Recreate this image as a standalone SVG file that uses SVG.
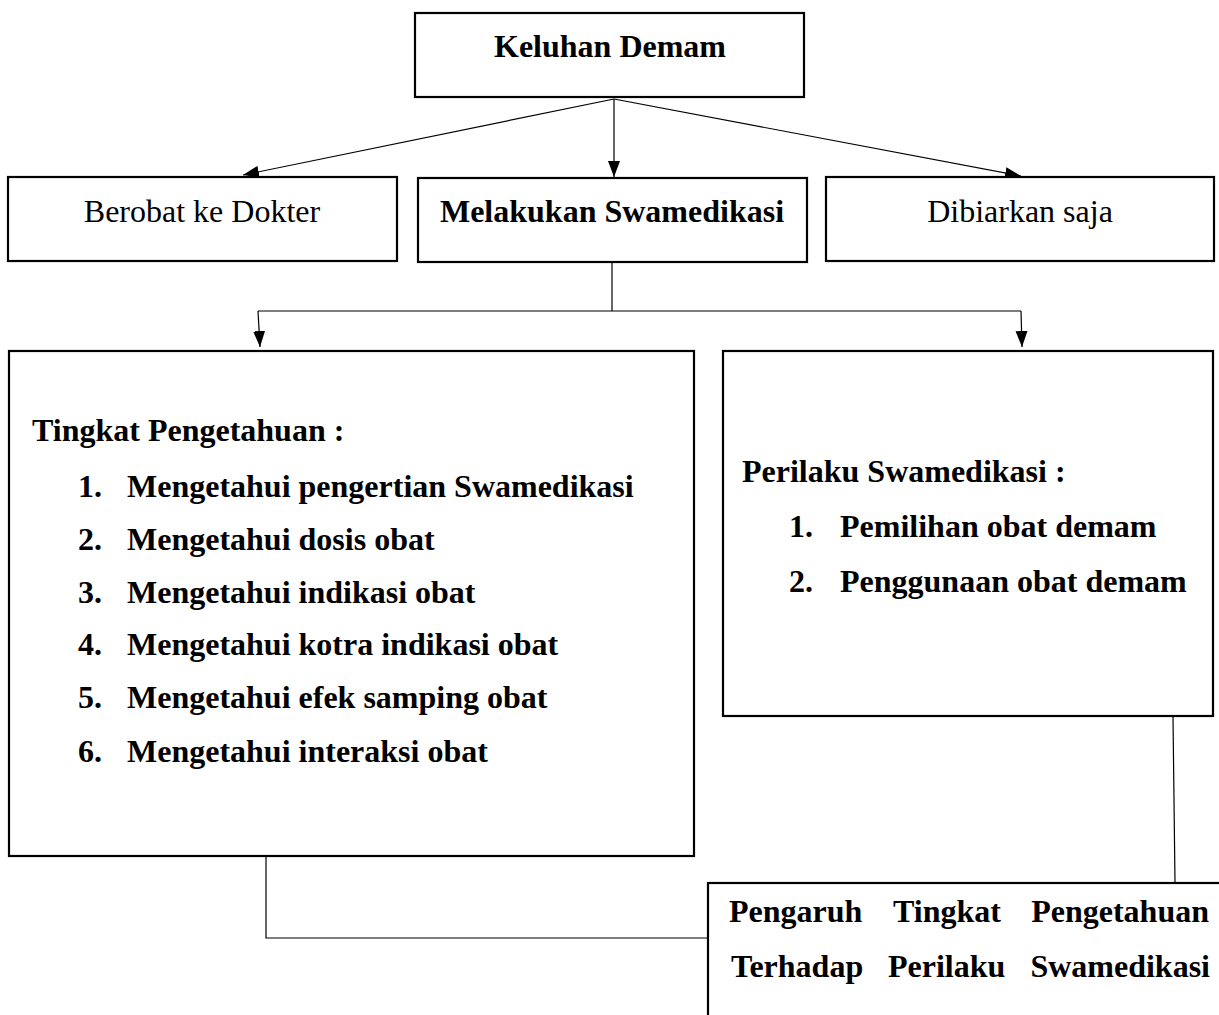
<svg xmlns="http://www.w3.org/2000/svg" width="1219" height="1015" viewBox="0 0 1219 1015">
<style>
.box{fill:#fff;stroke:#000;stroke-width:2.2}
.c{fill:none;stroke:#000;stroke-width:1.2}
text{font-family:"Liberation Serif","Times New Roman",serif;font-size:32px;fill:#000}
.b{font-weight:bold}
.m{text-anchor:middle}
.e{text-anchor:end}
</style>
<defs>
<marker id="ah" markerUnits="userSpaceOnUse" markerWidth="16" markerHeight="14" viewBox="0 0 16 14" refX="16" refY="7" orient="auto">
<path d="M0,1 L16,7 L0,13 Z" fill="#000"/>
</marker>
</defs>
<g id="connectors">
<line class="c" x1="614" y1="99" x2="614" y2="177" marker-end="url(#ah)"/>
<line class="c" x1="614" y1="99" x2="243" y2="175" marker-end="url(#ah)"/>
<line class="c" x1="614" y1="99" x2="1021" y2="176" marker-end="url(#ah)"/>
<polyline class="c" points="612,263 612,311"/>
<polyline class="c" points="258,311 1021,311"/>
<line class="c" x1="258" y1="311" x2="260" y2="347" marker-end="url(#ah)"/>
<line class="c" x1="1021" y1="311" x2="1022" y2="347" marker-end="url(#ah)"/>
<polyline class="c" points="266,857 266,938 707,938"/>
<line class="c" x1="1173" y1="717" x2="1175" y2="883"/>
</g>
<g id="keluhan">
<rect class="box" x="415" y="13" width="389" height="84"/>
<text class="b m" x="610" y="57">Keluhan Demam</text>
</g>
<g id="berobat">
<rect class="box" x="8" y="177" width="389" height="84"/>
<text class="m" x="202" y="222">Berobat ke Dokter</text>
</g>
<g id="swamedikasi">
<rect class="box" x="418" y="178" width="389" height="84"/>
<text class="b m" x="612" y="222">Melakukan Swamedikasi</text>
</g>
<g id="dibiarkan">
<rect class="box" x="826" y="177" width="388" height="84"/>
<text class="m" x="1020" y="222">Dibiarkan saja</text>
</g>
<g id="pengetahuan">
<rect class="box" x="9" y="351" width="685" height="505"/>
<text class="b" x="32" y="441">Tingkat Pengetahuan :</text>
<text class="b" x="78" y="497">1.</text><text class="b" x="127" y="497">Mengetahui pengertian Swamedikasi</text>
<text class="b" x="78" y="550">2.</text><text class="b" x="127" y="550">Mengetahui dosis obat</text>
<text class="b" x="78" y="603">3.</text><text class="b" x="127" y="603">Mengetahui indikasi obat</text>
<text class="b" x="78" y="655">4.</text><text class="b" x="127" y="655">Mengetahui kotra indikasi obat</text>
<text class="b" x="78" y="708">5.</text><text class="b" x="127" y="708">Mengetahui efek samping obat</text>
<text class="b" x="78" y="762">6.</text><text class="b" x="127" y="762">Mengetahui interaksi obat</text>
</g>
<g id="perilaku">
<rect class="box" x="723" y="351" width="490" height="365"/>
<text class="b" x="742" y="482">Perilaku Swamedikasi :</text>
<text class="b" x="789" y="537">1.</text><text class="b" x="840" y="537">Pemilihan obat demam</text>
<text class="b" x="789" y="592">2.</text><text class="b" x="840" y="592">Penggunaan obat demam</text>
</g>
<g id="pengaruh">
<rect class="box" x="708" y="883" width="520" height="150"/>
<text class="b" x="729" y="922">Pengaruh</text>
<text class="b" x="893" y="922">Tingkat</text>
<text class="b e" x="1209" y="922">Pengetahuan</text>
<text class="b" x="731" y="977">Terhadap</text>
<text class="b" x="888" y="977">Perilaku</text>
<text class="b e" x="1210" y="977">Swamedikasi</text>
</g>
</svg>
